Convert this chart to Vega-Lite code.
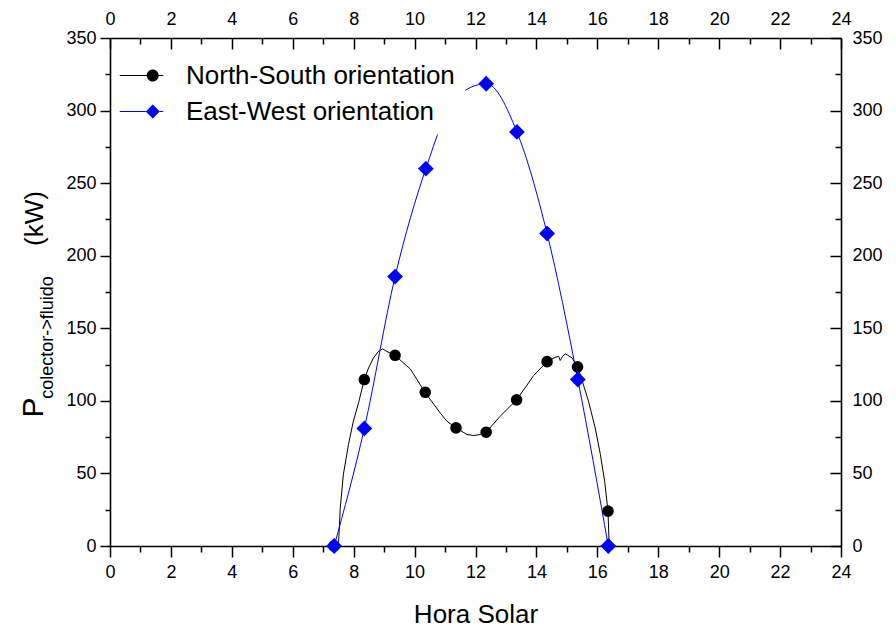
{
  "$schema": "https://vega.github.io/schema/vega-lite/v6.json",
  "width": 731,
  "height": 508,
  "autosize": "none",
  "padding": {"left": 110, "top": 38, "right": 55, "bottom": 81},
  "background": "white",
  "config": {
    "font": "Liberation Sans",
    "view": {"stroke": null},
    "axis": {
      "grid": false,
      "labelFont": "Liberation Sans",
      "labelFontSize": 18,
      "labelColor": "black",
      "labelFlush": false,
      "labelOverlap": false,
      "tickColor": "black",
      "tickWidth": 1.5,
      "domainColor": "black",
      "domainWidth": 1.6,
      "titleFont": "Liberation Sans",
      "titleFontWeight": "normal",
      "titleColor": "black"
    },
    "legend": {
      "orient": "none",
      "title": null,
      "fillColor": "white",
      "padding": 10,
      "rowPadding": 6,
      "symbolSize": 900,
      "symbolStrokeWidth": 0,
      "labelFont": "Liberation Sans",
      "labelFontSize": 26,
      "labelColor": "black",
      "labelOffset": 29.5,
      "labelLimit": 600
    }
  },
  "datasets": {
    "nsline": [
      {"h": 7.35, "p": 0}, {"h": 7.5, "p": 0}, {"h": 7.56, "p": 26}, {"h": 7.66, "p": 49},
      {"h": 7.83, "p": 70}, {"h": 7.99, "p": 86}, {"h": 8.16, "p": 98.6}, {"h": 8.35, "p": 114.7},
      {"h": 8.49, "p": 122.7}, {"h": 8.65, "p": 129.6}, {"h": 8.81, "p": 134}, {"h": 8.95, "p": 135.8},
      {"h": 9.09, "p": 134}, {"h": 9.36, "p": 131.4}, {"h": 9.64, "p": 126}, {"h": 9.86, "p": 122},
      {"h": 10.34, "p": 105.9}, {"h": 10.84, "p": 91.7}, {"h": 11.06, "p": 86}, {"h": 11.36, "p": 81.4},
      {"h": 11.72, "p": 76.8}, {"h": 11.94, "p": 76.1}, {"h": 12.16, "p": 76.8}, {"h": 12.35, "p": 78.4},
      {"h": 12.81, "p": 89.4}, {"h": 13.35, "p": 100.7}, {"h": 13.63, "p": 109}, {"h": 13.91, "p": 117.5},
      {"h": 14.35, "p": 127}, {"h": 14.62, "p": 130}, {"h": 14.73, "p": 130.7}, {"h": 14.78, "p": 127.8},
      {"h": 14.86, "p": 130.7}, {"h": 14.95, "p": 132.4}, {"h": 15.17, "p": 129.6}, {"h": 15.35, "p": 123.4},
      {"h": 15.49, "p": 114.7}, {"h": 15.71, "p": 99.7}, {"h": 15.93, "p": 81.4}, {"h": 16.1, "p": 63},
      {"h": 16.24, "p": 44.6}, {"h": 16.35, "p": 24}, {"h": 16.39, "p": 0}
    ],
    "pts": [
      {"series": "North-South orientation", "h": 7.35, "p": 0},
      {"series": "North-South orientation", "h": 8.35, "p": 114.7},
      {"series": "North-South orientation", "h": 9.36, "p": 131.4},
      {"series": "North-South orientation", "h": 10.35, "p": 105.9},
      {"series": "North-South orientation", "h": 11.36, "p": 81.4},
      {"series": "North-South orientation", "h": 12.35, "p": 78.4},
      {"series": "North-South orientation", "h": 13.35, "p": 100.7},
      {"series": "North-South orientation", "h": 14.35, "p": 127},
      {"series": "North-South orientation", "h": 15.35, "p": 123.4},
      {"series": "North-South orientation", "h": 16.35, "p": 24},
      {"series": "East-West orientation", "h": 7.36, "p": 0},
      {"series": "East-West orientation", "h": 8.35, "p": 81},
      {"series": "East-West orientation", "h": 9.36, "p": 185.6},
      {"series": "East-West orientation", "h": 10.37, "p": 260},
      {"series": "East-West orientation", "h": 11.36, "p": 309},
      {"series": "East-West orientation", "h": 12.35, "p": 318.5},
      {"series": "East-West orientation", "h": 13.36, "p": 285.3},
      {"series": "East-West orientation", "h": 14.35, "p": 215.3},
      {"series": "East-West orientation", "h": 15.36, "p": 114.7},
      {"series": "East-West orientation", "h": 16.36, "p": 0}
    ]
  },
  "layer": [
    {
      "data": {"name": "nsline"},
      "mark": {"type": "line", "color": "black", "strokeWidth": 1},
      "encoding": {
        "x": {
          "field": "h", "type": "quantitative",
          "scale": {"domain": [0, 24], "nice": false, "zero": false},
          "axis": {
            "orient": "bottom",
            "values": [0, 2, 4, 6, 8, 10, 12, 14, 16, 18, 20, 22, 24],
            "tickSize": 11, "labelPadding": 6,
            "title": "Hora Solar", "titleFontSize": 26,
            "titleBaseline": "alphabetic", "titleY": 76
          }
        },
        "y": {
          "field": "p", "type": "quantitative",
          "scale": {"domain": [0, 350], "nice": false},
          "axis": {
            "orient": "left",
            "values": [0, 50, 100, 150, 200, 250, 300, 350],
            "tickSize": 10, "labelPadding": 4,
            "title": "P", "titleFontSize": 30, "titleAngle": 270,
            "titleX": -68, "titleY": 369, "titleBaseline": "alphabetic", "titleAlign": "center"
          }
        }
      }
    },
    {
      "data": {"name": "pts"},
      "transform": [{"filter": "datum.series === 'East-West orientation'"}],
      "mark": {"type": "line", "color": "#0000ff", "strokeWidth": 1, "interpolate": "monotone"},
      "encoding": {
        "x": {
          "field": "h", "type": "quantitative",
          "scale": {"domain": [0, 24], "nice": false, "zero": false},
          "axis": {
            "orient": "top",
            "values": [0, 2, 4, 6, 8, 10, 12, 14, 16, 18, 20, 22, 24],
            "tickSize": -11, "labelPadding": 21, "title": null
          }
        },
        "y": {
          "field": "p", "type": "quantitative",
          "scale": {"domain": [0, 350], "nice": false},
          "axis": {
            "orient": "right",
            "values": [0, 50, 100, 150, 200, 250, 300, 350],
            "tickSize": -11, "labelPadding": 22, "title": null
          }
        }
      }
    },
    {
      "data": {"name": "pts"},
      "transform": [{"filter": "datum.series === 'North-South orientation'"}],
      "mark": {"type": "point", "shape": "circle", "filled": true, "opacity": 1, "size": 135},
      "encoding": {
        "x": {
          "field": "h", "type": "quantitative",
          "scale": {"domain": [0, 24], "nice": false, "zero": false},
          "axis": {
            "orient": "bottom",
            "values": [1, 3, 5, 7, 9, 11, 13, 15, 17, 19, 21, 23],
            "tickSize": 6, "labels": false, "domain": false, "title": null
          }
        },
        "y": {
          "field": "p", "type": "quantitative",
          "scale": {"domain": [0, 350], "nice": false},
          "axis": {
            "orient": "left",
            "values": [25, 75, 125, 175, 225, 275, 325],
            "tickSize": 5, "labels": false, "domain": false,
            "title": "colector->fluido", "titleFontSize": 18, "titleAngle": 270,
            "titleX": -58, "titleY": 299, "titleBaseline": "alphabetic", "titleAlign": "center"
          }
        },
        "fill": {
          "field": "series", "type": "nominal",
          "scale": {"domain": ["North-South orientation", "East-West orientation"], "range": ["#000000", "transparent"]},
          "legend": {
            "legendX": 6.5, "legendY": 12.5,
            "labelExpr": "datum.value === 'East-West orientation' ? '' : datum.label",
            "symbolType": "M-1.45,-0.035H0.35V0.035H-1.45Z M1.15,-0.035H1.45V0.035H1.15Z M1.15,0A0.4,0.4 0 1,1 0.35,0A0.4,0.4 0 1,1 1.15,0Z"
          }
        }
      }
    },
    {
      "data": {"name": "pts"},
      "transform": [{"filter": "datum.series === 'East-West orientation'"}],
      "mark": {"type": "point", "shape": "diamond", "filled": true, "opacity": 1, "size": 250},
      "encoding": {
        "x": {
          "field": "h", "type": "quantitative",
          "scale": {"domain": [0, 24], "nice": false, "zero": false},
          "axis": {
            "orient": "top",
            "values": [1, 3, 5, 7, 9, 11, 13, 15, 17, 19, 21, 23],
            "tickSize": -6, "labels": false, "domain": false,
            "title": "(kW)", "titleFontSize": 26, "titleAngle": 270,
            "titleX": -68, "titleY": 180, "titleBaseline": "alphabetic", "titleAlign": "center"
          }
        },
        "y": {
          "field": "p", "type": "quantitative",
          "scale": {"domain": [0, 350], "nice": false},
          "axis": {
            "orient": "right",
            "values": [25, 75, 125, 175, 225, 275, 325],
            "tickSize": -6, "labels": false, "domain": false, "title": null
          }
        },
        "color": {
          "field": "series", "type": "nominal",
          "scale": {"domain": ["East-West orientation"], "range": ["#0000ff"]},
          "legend": {
            "legendX": 6.5, "legendY": 48.5,
            "symbolType": "M-1.45,-0.035H0.28V0.035H-1.45Z M1.22,-0.035H1.45V0.035H1.22Z M0.28,0L0.75,-0.47L1.22,0L0.75,0.47Z"
          }
        }
      }
    }
  ],
  "resolve": {"axis": {"x": "independent", "y": "independent"}}
}
